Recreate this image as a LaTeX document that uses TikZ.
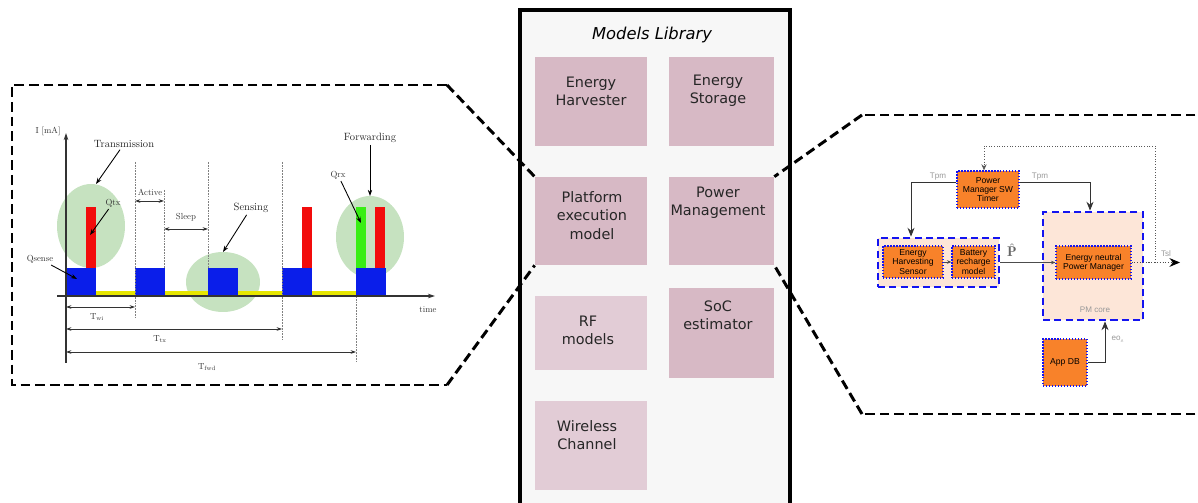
\documentclass[tikz,border=0pt]{standalone}
\usepackage{fontspec}
\usepackage{amsmath}
\usepackage{graphicx}
\usepackage{xcolor}
\usepackage{tikz}
\usetikzlibrary{arrows.meta,positioning}

\newfontfamily\libfont{DejaVu Sans}
\newfontfamily\pmfont{Liberation Sans}

% chart labels: 10pt design size, shrunk
\newcommand{\ctext}[1]{\scalebox{0.6}{#1}}
\newcommand{\stext}[1]{\scalebox{0.5}{#1}}

\definecolor{libfill}{HTML}{F7F7F7}
\definecolor{modpink}{HTML}{D7B9C5}
\definecolor{modlight}{HTML}{E2CCD6}
\definecolor{curblue}{HTML}{0A1EEA}
\definecolor{curred}{HTML}{F20C0C}
\definecolor{curyellow}{HTML}{E6E600}
\definecolor{curgreen}{HTML}{38EE14}
\definecolor{ellgreen}{HTML}{C6E2C0}
\definecolor{pmorange}{HTML}{F8822A}
\definecolor{pmpeach}{HTML}{FDE6D8}
\definecolor{pmblue}{HTML}{1414F0}

\begin{document}
\begin{tikzpicture}[x=0.02cm, y=-0.02cm,
  zoomline/.style={line width=1.7pt, dash pattern=on 5.5pt off 2.8pt},
  modbox/.style={fill=modpink, inner sep=0pt, minimum width=2.24cm, minimum height=1.78cm},
  modtxt/.style={font=\libfont\fontsize{8.2}{10.4}\selectfont, align=center, text=black!85},
  guide/.style={gray, line width=0.3pt, dash pattern=on 1pt off 0.6pt},
  axis/.style={-{Stealth[length=4pt,width=2.6pt]}, line width=0.6pt, black!80},
  dim/.style={{Stealth[length=3pt,width=2pt]}-{Stealth[length=3pt,width=2pt]}, line width=0.45pt, black!80},
  callout/.style={font=\fontsize{10}{12}\selectfont, text=black!85, inner sep=1pt},
  small/.style={font=\fontsize{10}{12}\selectfont, text=black!80, inner sep=1pt},
  callarr/.style={-{Stealth[length=3.5pt,width=2.5pt]}, line width=0.5pt},
  pmbox/.style={fill=pmorange, draw=pmblue, densely dotted, line width=0.7pt,
                font=\pmfont\fontsize{4.9}{5.3}\selectfont, align=center,
                inner sep=0pt},
  pmgroup/.style={fill=pmpeach, draw=pmblue, line width=1.6pt,
                  dash pattern=on 4pt off 2.4pt, inner sep=0pt},
  faint/.style={font=\pmfont\fontsize{4.6}{5}\selectfont, text=black!40, inner sep=0.5pt},
  pmarr/.style={-{Stealth[length=5pt,width=4pt]}, line width=0.55pt, black!80},
  pmsmall/.style={-{Stealth[length=2.5pt,width=2pt]}, line width=0.5pt, black!70},
]
  \useasboundingbox (0,0) rectangle (1198,503);

  %% models library
  \draw[line width=2.8pt, fill=libfill] (520,10) rectangle (790,515);
  \node[font=\libfont\itshape\fontsize{9.3}{11}\selectfont] (libt) at (652,35) {Models Library};

  %% zoom outlines
  \coordinate (lt) at (447,85);
  \coordinate (lb) at (447,385);
  \coordinate (rt) at (862,115);
  \coordinate (rb) at (862,414);
  \draw[zoomline] (lt) -- (12,85) -- (12,385) -- (lb);
  \draw[zoomline] (1210,115) -- (rt);
  \draw[zoomline] (1210,414) -- (rb);

  \node[modbox] (eh)  at (591,101.5) {};
  \node[modbox, minimum width=2.1cm] (es) at (721.5,101.5) {};
  \node[modbox, minimum height=1.76cm] (pe) at (591,221) {};
  \node[modbox, minimum width=2.1cm, minimum height=1.76cm] (pm) at (721.5,221) {};
  \node[modbox, fill=modlight, minimum height=1.48cm] (rf) at (591,333) {};
  \node[modbox, minimum width=2.1cm, minimum height=1.8cm] (soc) at (721.5,333) {};
  \node[modbox, fill=modlight] (wc) at (591,445.5) {};

  \draw[zoomline] (lt) -- (pe.north west);
  \draw[zoomline] (lb) -- (pe.south west);
  \draw[zoomline] (rt) -- (pm.north east);
  \draw[zoomline] (rb) -- (pm.south east);

  \node[modtxt] at (591,91)    {Energy\\Harvester};
  \node[modtxt] at (718,91)    {Energy\\Storage};
  \node[modtxt] at (592,215.5) {Platform\\execution\\model};
  \node[modtxt] at (718,203)   {Power\\Management};
  \node[modtxt] at (588,330.5) {RF\\models};
  \node[modtxt] at (718,315.5) {SoC\\estimator};
  \node[modtxt] at (587,435)   {Wireless\\Channel};

  %% current profile
  \fill[ellgreen] (91,226) ellipse (34 and 42);
  \fill[ellgreen] (223,282) ellipse (37 and 30);
  \fill[ellgreen] (370,237) ellipse (34 and 41);
  \foreach \a/\b in {96/135,164/208,238/282,312/356}
    \fill[curyellow] (\a,291) rectangle (\b,296);
  \foreach \a in {66,135,208,282,356}
    \fill[curblue] (\a,268) rectangle ++(29.5,28);
  \foreach \a in {86,302,375}
    \fill[curred] (\a,207) rectangle ++(10,61);
  \fill[curgreen] (356,207) rectangle ++(10,61);

  \draw[guide] (135,162) -- (135,318);
  \draw[guide] (164,190) -- (164,268);
  \draw[guide] (208,162) -- (208,268);
  \draw[guide] (282,162) -- (282,340);
  \draw[guide] (356,296) -- (356,363);

  \draw[axis] (57,296) -- (435,296);
  \draw[axis] (66,363) -- (66,133);
  \node[small] (ylab) at (48,131) {\stext{I [mA]}};
  \node[small] (xlab) at (428,310) {\stext{time}};

  \draw[dim] (135,201) -- (164,201);
  \node[small] (act) at (150,192) {\stext{Active}};
  \draw[dim] (164,229) -- (208,229);
  \node[small] (slp) at (186,217) {\stext{Sleep}};
  \draw[dim] (66,307) -- (135,307);
  \node[small] (twi) at (97,317) {\stext{T$_{\mathrm{wi}}$}};
  \draw[dim] (66,329) -- (282,329);
  \node[small] (ttx) at (160,339) {\stext{T$_{\mathrm{tx}}$}};
  \draw[dim] (66,352) -- (356,352);
  \node[small] (tfwd) at (207,367) {\stext{T$_{\mathrm{fwd}}$}};

  \node[callout] (trans) at (124,144) {\ctext{Transmission}};
  \node[callout] (sens)  at (251,208) {\ctext{Sensing}};
  \node[callout] (fwd)   at (370,138) {\ctext{Forwarding}};
  \node[small] (qtx)    at (113,203) {\stext{Qtx}};
  \node[small] (qsense) at (40,259) {\stext{Qsense}};
  \node[small] (qrx)    at (338,175) {\stext{Qrx}};
  \coordinate (transtip) at (96,184);
  \coordinate (senstip) at (223,252);
  \coordinate (fwdtip) at (370,196);
  \coordinate (qtxtip) at (90,235);
  \coordinate (qsensetip) at (77,279);
  \coordinate (qrxtip) at (361,223);
  \draw[callarr] (trans) -- (transtip);
  \draw[callarr] (sens) -- (senstip);
  \draw[callarr] (fwd) -- (fwdtip);
  \draw[callarr] (qtx) -- (qtxtip);
  \draw[callarr] (qsense) -- (qsensetip);
  \draw[callarr] (qrx) -- (qrxtip);

  %% power manager
  \node[pmgroup, minimum width=2.42cm, minimum height=0.98cm] (hgrp) at (938.5,262.5) {};
  \node[pmgroup, minimum width=2cm, minimum height=2.16cm] (core) at (1093,266) {};
  \node[pmbox, minimum width=1.24cm, minimum height=0.74cm] (timer) at (988,189.5)
    {Power\\Manager SW\\Timer};
  \node[pmbox, minimum width=1.2cm, minimum height=0.64cm] (ehs) at (913,262)
    {Energy\\Harvesting\\Sensor};
  \node[pmbox, minimum width=0.86cm, minimum height=0.64cm] (brm) at (973.5,262)
    {Battery\\recharge\\model};
  \node[pmbox, minimum width=1.5cm, minimum height=0.66cm] (enpm) at (1093.5,262.5)
    {Energy neutral\\Power Manager};
  \node[pmbox, minimum width=0.88cm, minimum height=0.94cm] (appdb) at (1065,362.5)
    {App DB};
  \node[faint] (pmc) at (1095,310) {PM core};

  \coordinate (tsl) at (1180,262.5);
  \coordinate (fb) at (1155,262.5);
  \coordinate (fbtop) at (1155,146);

  \draw[pmarr] (timer.168) -| ([xshift=-0.55cm]hgrp.north);
  \draw[pmarr] (timer.12) -| ([xshift=-0.06cm]core.north);
  \draw[pmsmall] (ehs) -- (brm);
  \draw[pmsmall] (hgrp.east) -- (enpm.west);
  \draw[densely dotted, line width=0.6pt, black!70, -{Stealth[length=6pt,width=5pt,color=black]}]
    (enpm.east) -- (tsl);
  \draw[densely dotted, line width=0.5pt, black!65, -{Stealth[length=3.5pt,width=3pt]}]
    (fb) -- (fbtop) -| ([xshift=-0.08cm]timer.north);
  \draw[pmarr] (appdb.east) -| ([xshift=0.24cm]core.south);

  \node[faint] (tpm1) at (938,177) {Tpm};
  \node[faint] (tpm2) at (1040,177) {Tpm};
  \node[font=\bfseries\fontsize{8}{9}\selectfont, text=black!60, inner sep=0pt] (phat) at (1012,250) {$\hat{\mathbf{P}}$};
  \node[faint] (tsll) at (1166,254) {Tsl};
  \node[faint] (eos) at (1118,339) {eo$_\mathrm{s}$};
\end{tikzpicture}
\end{document}
